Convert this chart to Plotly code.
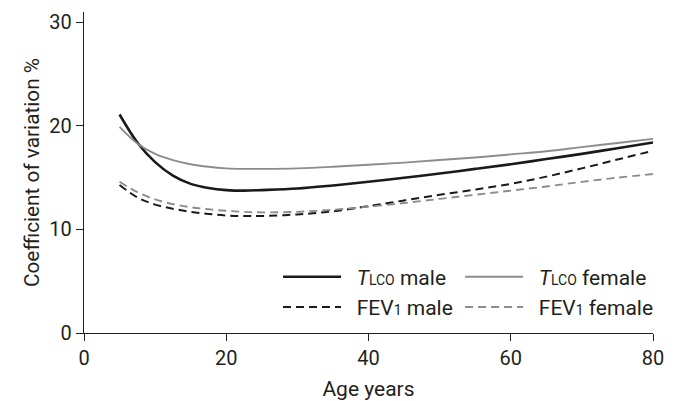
import plotly.graph_objects as go

age = [5, 7.5, 10, 12.5, 15, 17.5, 20, 22.5, 25, 30, 35, 40, 45, 50, 55, 60, 65, 70, 75, 80]

tlco_male = [21.1, 18.4, 16.5, 15.2, 14.4, 14.0, 13.8, 13.75, 13.8, 13.95, 14.25, 14.6,
             15.0, 15.4, 15.85, 16.3, 16.8, 17.3, 17.85, 18.4]
tlco_female = [19.9, 18.3, 17.3, 16.7, 16.3, 16.05, 15.9, 15.85, 15.85, 15.9, 16.05, 16.25,
               16.45, 16.7, 16.95, 17.25, 17.55, 17.95, 18.35, 18.75]
fev1_male = [14.3, 13.1, 12.4, 12.0, 11.7, 11.5, 11.35, 11.3, 11.3, 11.45, 11.75, 12.25,
             12.8, 13.35, 13.85, 14.4, 15.1, 15.9, 16.75, 17.6]
fev1_female = [14.6, 13.6, 12.9, 12.45, 12.15, 11.95, 11.8, 11.7, 11.65, 11.7, 11.9, 12.2,
               12.55, 12.95, 13.35, 13.75, 14.15, 14.6, 15.0, 15.35]

x_ticks = [0, 20, 40, 60, 80]
y_ticks = [0, 10, 20, 30]

FONT = "Roboto"
TXT = "#231f20"
BLACK = "#1a1a1a"
GRAY = "#8c8c8c"
SUB = "<span style='font-size:14px'>{}</span>"
PAD = "\u2002"

fig = go.Figure()
fig.add_trace(go.Scatter(x=age, y=tlco_male, mode="lines", line_shape="spline",
                         name=PAD + "<i>T</i>" + SUB.format("LCO") + " male",
                         legendgroup="a", line=dict(color=BLACK, width=2.6), legend="legend"))
fig.add_trace(go.Scatter(x=age, y=tlco_female, mode="lines", line_shape="spline",
                         name=PAD + "<i>T</i>" + SUB.format("LCO") + " female",
                         legendgroup="b", line=dict(color=GRAY, width=1.9), legend="legend2"))
fig.add_trace(go.Scatter(x=age, y=fev1_male, mode="lines", line_shape="spline",
                         name=PAD + "FEV" + SUB.format("1") + " male",
                         legendgroup="c", line=dict(color=BLACK, width=2.0, dash="8px,5px"),
                         legend="legend"))
fig.add_trace(go.Scatter(x=age, y=fev1_female, mode="lines", line_shape="spline",
                         name=PAD + "FEV" + SUB.format("1") + " female",
                         legendgroup="d", line=dict(color=GRAY, width=1.9, dash="8px,5px"),
                         legend="legend2"))

leg_common = dict(orientation="v", xanchor="left", yanchor="top",
                  font=dict(family=FONT, size=21, color=TXT),
                  bgcolor="rgba(0,0,0,0)", itemwidth=58, tracegroupgap=0,
                  traceorder="grouped")

fig.update_layout(
    width=680, height=401,
    margin=dict(l=84, r=27, t=12, b=68),
    paper_bgcolor="white", plot_bgcolor="white",
    font=dict(family=FONT, size=20, color=TXT),
    showlegend=True,
    legend=dict(x=0.341, y=0.238, **leg_common),
    legend2=dict(x=0.661, y=0.238, **leg_common),
    xaxis=dict(range=[0, 80], tickvals=x_ticks, ticks="outside", ticklen=7, tickwidth=1.3,
               tickcolor=TXT, showline=True, linecolor=TXT, linewidth=1.3,
               showgrid=False, zeroline=False, automargin=False,
               title=dict(text="Age years", standoff=15, font=dict(size=21)),
               tickfont=dict(size=20)),
    yaxis=dict(range=[0, 31], tickvals=y_ticks, ticks="outside", ticklen=7, tickwidth=1.3,
               tickcolor=TXT, showline=True, linecolor=TXT, linewidth=1.3,
               showgrid=False, zeroline=False, automargin=False,
               title=dict(text="Coefficient of variation %", standoff=4, font=dict(size=20.8)),
               tickfont=dict(size=20)),
)

fig.write_html("out.html", config={"displayModeBar": False},
               post_script="document.body.style.margin='0';document.body.style.overflow='hidden';")
